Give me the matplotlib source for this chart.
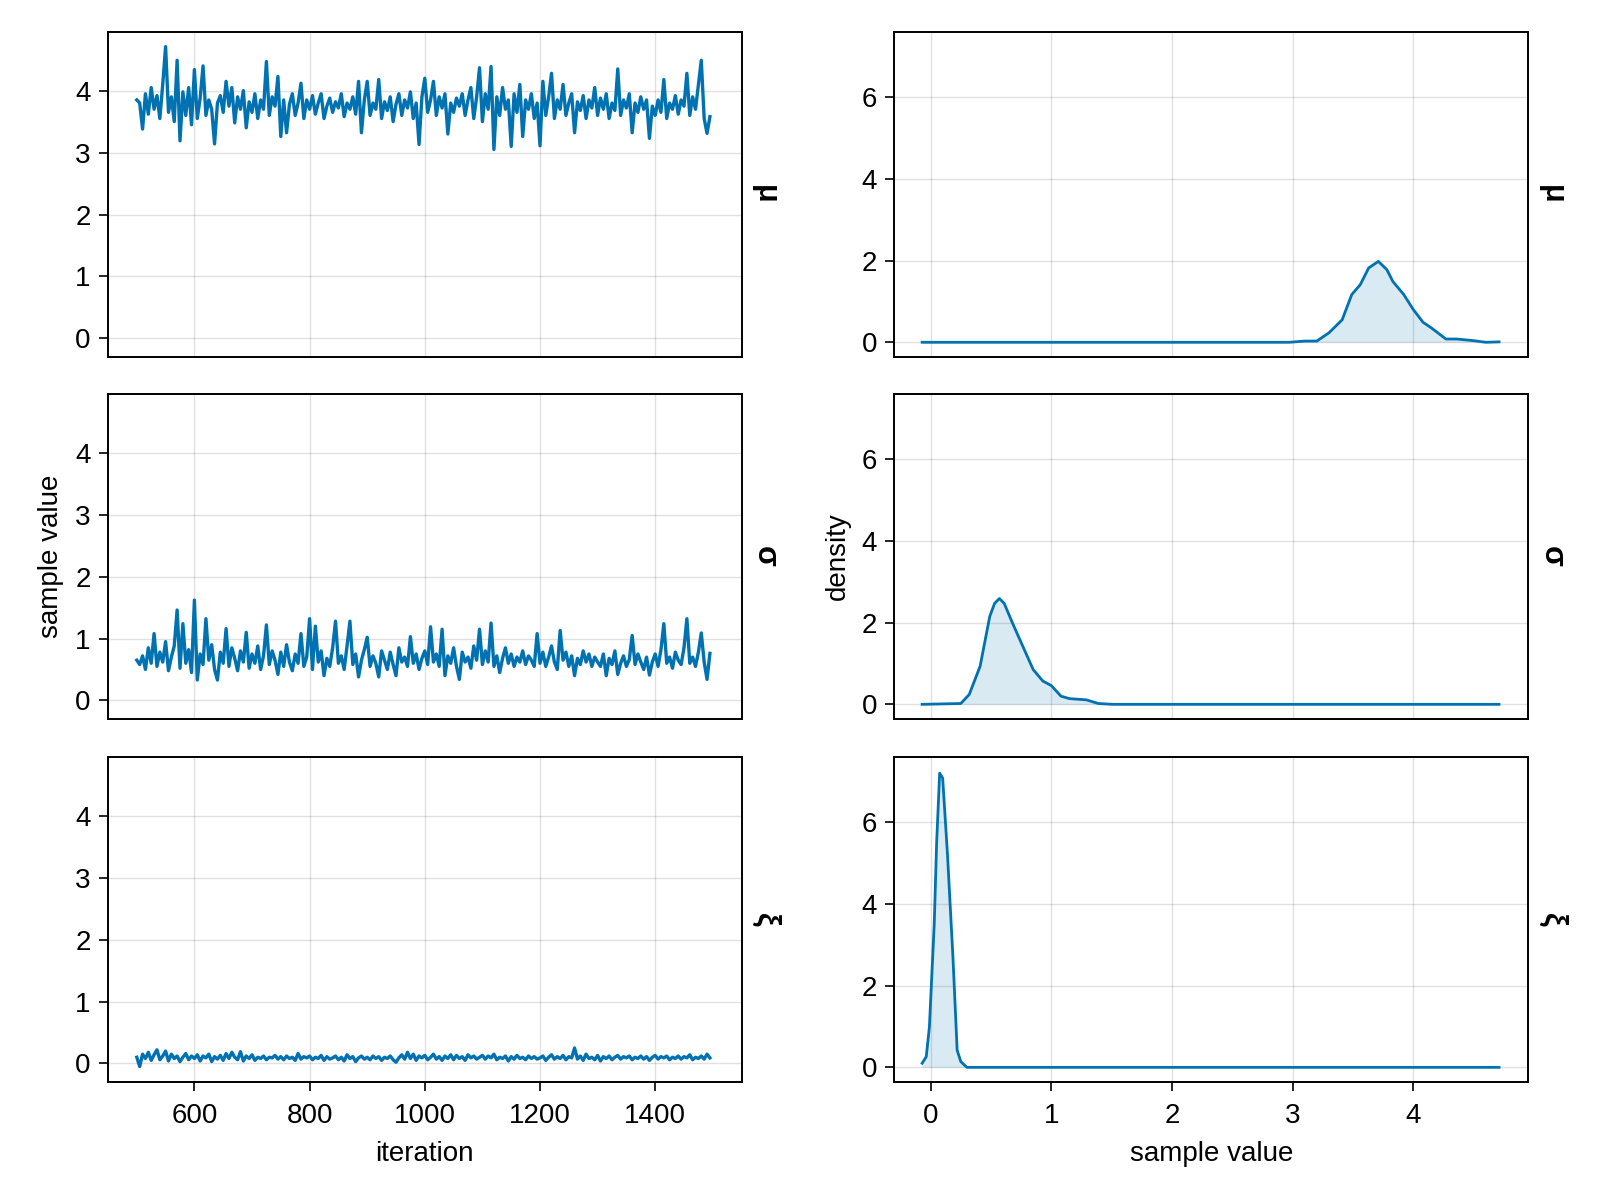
import numpy as np
import matplotlib
matplotlib.use("Agg")
import matplotlib.pyplot as plt

# trace samples, one value every 5 iterations (500..1495)
iterations = list(range(500, 1500, 5))

mu_trace = [
    3.85, 3.80, 3.38, 3.95, 3.62, 4.05, 3.70, 3.92, 3.55, 4.10, 4.71, 3.65, 3.90, 3.50, 4.49, 3.19, 3.98, 3.60, 4.05, 3.45,
    4.34, 3.55, 3.88, 4.40, 3.60, 3.85, 3.70, 3.14, 3.80, 3.92, 3.65, 4.15, 3.75, 4.05, 3.48, 3.90, 3.70, 4.00, 3.40, 3.82,
    3.65, 3.95, 3.55, 3.85, 3.70, 4.47, 3.60, 3.90, 3.75, 4.23, 3.26, 3.85, 3.32, 3.78, 3.95, 3.60, 3.80, 4.12, 3.55, 3.85,
    3.70, 3.92, 3.62, 3.80, 3.95, 3.55, 3.75, 3.88, 3.65, 3.82, 3.72, 3.95, 3.58, 3.80, 3.70, 3.90, 3.62, 4.15, 3.32, 3.85,
    4.15, 3.60, 3.80, 3.70, 4.18, 3.55, 3.82, 3.68, 3.90, 3.50, 3.78, 3.95, 3.60, 3.85, 3.72, 3.98, 3.55, 3.80, 3.13, 3.90,
    4.20, 3.65, 3.85, 4.15, 3.60, 3.90, 3.72, 3.95, 3.30, 3.80, 3.65, 3.88, 3.75, 3.95, 3.60, 3.85, 4.05, 3.55, 3.90, 4.37,
    3.50, 3.95, 3.70, 4.39, 3.05, 3.90, 3.60, 4.05, 3.70, 3.85, 3.10, 3.95, 3.65, 4.10, 3.26, 3.85, 3.70, 3.95, 3.55, 3.80,
    3.11, 4.15, 3.60, 3.90, 4.28, 3.55, 3.85, 3.70, 4.10, 3.60, 3.80, 3.95, 3.32, 3.82, 3.68, 3.92, 3.55, 3.85, 3.72, 4.05,
    3.60, 3.88, 3.70, 3.95, 3.55, 3.80, 3.68, 4.35, 3.60, 3.85, 3.72, 3.95, 3.32, 3.80, 3.65, 3.90, 3.70, 3.85, 3.23, 3.75,
    3.60, 3.85, 3.65, 4.18, 3.55, 3.80, 3.70, 3.92, 3.62, 3.85, 3.75, 4.28, 3.60, 3.90, 3.70, 4.10, 4.49, 3.55, 3.31, 3.58,
]

sigma_trace = [
    0.65, 0.58, 0.72, 0.50, 0.85, 0.60, 1.08, 0.55, 0.78, 0.62, 0.95, 0.48, 0.70, 0.88, 1.46, 0.52, 1.24, 0.60, 0.82, 0.45,
    1.62, 0.33, 0.75, 0.58, 1.32, 0.65, 0.90, 0.50, 0.33, 0.78, 0.60, 1.16, 0.55, 0.85, 0.68, 0.48, 0.80, 0.62, 1.10, 0.52,
    0.75, 0.60, 0.88, 0.50, 0.72, 1.22, 0.58, 0.80, 0.65, 0.42, 0.78, 0.55, 0.90, 0.62, 0.48, 0.75, 0.60, 1.08, 0.55, 0.70,
    1.32, 0.50, 1.20, 0.62, 0.80, 0.40, 0.68, 0.55, 0.85, 1.28, 0.60, 0.72, 0.50, 0.88, 1.28, 0.58, 0.75, 0.38, 0.65, 0.82,
    1.02, 0.55, 0.72, 0.60, 0.38, 0.80, 0.65, 0.50, 0.78, 0.58, 0.40, 0.85, 0.62, 0.70, 0.55, 1.03, 0.60, 0.75, 0.50, 0.68,
    0.80, 0.58, 1.19, 0.62, 0.75, 0.55, 1.15, 0.40, 0.72, 0.60, 0.85, 0.55, 0.34, 0.78, 0.62, 0.70, 0.52, 0.88, 0.65, 1.15,
    0.58, 0.80, 0.62, 1.25, 0.55, 0.72, 0.45, 0.68, 0.85, 0.60, 0.75, 0.55, 0.70, 0.62, 0.80, 0.58, 0.72, 0.65, 0.55, 1.08,
    0.60, 0.78, 0.55, 0.70, 0.88, 0.62, 0.50, 1.13, 0.65, 0.78, 0.55, 0.72, 0.40, 0.68, 0.58, 0.80, 0.62, 0.75, 0.55, 0.70,
    0.62, 0.55, 0.75, 0.40, 0.68, 0.58, 0.80, 0.42, 0.60, 0.72, 0.55, 0.66, 1.05, 0.58, 0.75, 0.62, 0.50, 0.70, 0.41, 0.62,
    0.75, 0.55, 0.82, 1.24, 0.60, 0.70, 0.52, 0.78, 0.65, 0.58, 0.85, 1.32, 0.60, 0.70, 0.55, 0.78, 1.09, 0.62, 0.34, 0.76,
]

xi_trace = [
    0.10, -0.05, 0.15, 0.08, 0.18, 0.05, 0.14, 0.22, 0.06, 0.12, 0.20, 0.04, 0.15, 0.08, 0.12, 0.03, 0.10, 0.16, 0.06, 0.12,
    0.08, 0.14, 0.04, 0.12, 0.09, 0.15, 0.03, 0.11, 0.07, 0.13, 0.05, 0.16, 0.08, 0.18, 0.10, 0.06, 0.19, 0.04, 0.12, 0.08,
    0.14, 0.05, 0.10, 0.08, 0.12, 0.06, 0.10, 0.09, 0.13, 0.07, 0.11, 0.06, 0.12, 0.08, 0.10, 0.05, 0.16, 0.07, 0.11, 0.09,
    0.12, 0.06, 0.10, 0.08, 0.13, 0.05, 0.11, 0.07, 0.09, 0.12, 0.06, 0.10, 0.04, 0.14, 0.08, 0.11, 0.03, 0.09, 0.12, 0.07,
    0.10, 0.06, 0.12, 0.08, 0.11, 0.05, 0.10, 0.08, 0.12, 0.06, 0.02, 0.09, 0.14, 0.07, 0.18, 0.08, 0.15, 0.05, 0.12, 0.09,
    0.13, 0.06, 0.10, 0.15, 0.07, 0.11, 0.05, 0.12, 0.08, 0.14, 0.06, 0.13, 0.08, 0.11, 0.05, 0.14, 0.09, 0.12, 0.07, 0.10,
    0.13, 0.07, 0.12, 0.09, 0.15, 0.06, 0.10, 0.08, 0.12, 0.04, 0.11, 0.07, 0.13, 0.08, 0.10, 0.06, 0.12, 0.08, 0.11, 0.07,
    0.09, 0.12, 0.05, 0.10, 0.14, 0.07, 0.11, 0.08, 0.13, 0.06, 0.11, 0.09, 0.25, 0.07, 0.12, 0.05, 0.15, 0.08, 0.10, 0.06,
    0.13, 0.04, 0.11, 0.08, 0.12, 0.06, 0.10, 0.13, 0.07, 0.11, 0.09, 0.12, 0.06, 0.10, 0.08, 0.12, 0.07, 0.11, 0.05, 0.10,
    0.13, 0.07, 0.11, 0.09, 0.12, 0.06, 0.10, 0.08, 0.12, 0.07, 0.11, 0.09, 0.14, 0.06, 0.10, 0.08, 0.12, 0.07, 0.15, 0.09,
]

# kernel density curves
mu_dens_x = [-0.07, 2.97, 3.10, 3.20, 3.30, 3.41, 3.49, 3.56, 3.63, 3.71, 3.78, 3.83, 3.92, 4.00, 4.08, 4.15, 4.27, 4.36, 4.50, 4.60, 4.71]
mu_dens_y = [0.0, 0.0, 0.03, 0.03, 0.23, 0.55, 1.17, 1.41, 1.82, 1.98, 1.78, 1.49, 1.17, 0.80, 0.49, 0.35, 0.08, 0.08, 0.04, 0.0, 0.01]

sigma_dens_x = [-0.07, 0.25, 0.32, 0.41, 0.49, 0.53, 0.57, 0.61, 0.68, 0.77, 0.85, 0.93, 1.00, 1.08, 1.15, 1.29, 1.39, 1.51, 4.71]
sigma_dens_y = [0.0, 0.02, 0.24, 0.93, 2.15, 2.47, 2.59, 2.47, 1.98, 1.38, 0.85, 0.57, 0.46, 0.20, 0.14, 0.11, 0.02, 0.0, 0.0]

xi_dens_x = [-0.07, -0.036, -0.01, 0.03, 0.05, 0.075, 0.10, 0.14, 0.185, 0.22, 0.25, 0.30, 4.71]
xi_dens_y = [0.10, 0.26, 0.99, 3.5, 5.5, 7.2, 7.08, 5.2, 2.7, 0.42, 0.14, 0.0, 0.0]

names = ["μ", "σ", "ξ"]
traces = [mu_trace, sigma_trace, xi_trace]
dens_x = [mu_dens_x, sigma_dens_x, xi_dens_x]
dens_y = [mu_dens_y, sigma_dens_y, xi_dens_y]

blue = "#0072B2"
plt.rcParams['font.family'] = ['Liberation Sans', 'DejaVu Sans']
plt.rcParams['font.size'] = 10

fig = plt.figure(figsize=(8, 6), dpi=200)

row_bottoms = [0.7025, 0.4008, 0.0983]
row_h = 0.271


def style_axes(ax, show_x):
    for s in ax.spines.values():
        s.set_linewidth(0.7)
    ax.grid(True, color="black", alpha=0.12, linewidth=0.5)
    ax.set_axisbelow(True)
    ax.tick_params(direction="out", length=3.2, width=0.6, labelsize=10, pad=3)
    ax.tick_params(axis="x", pad=4.5)
    if not show_x:
        ax.tick_params(axis="x", length=0, labelbottom=False)


for i in range(3):
    # trace column
    ax = fig.add_axes([0.0675, row_bottoms[i], 0.396, row_h])
    ax.plot(iterations, traces[i], color=blue, linewidth=1.2)
    ax.set_xlim(450, 1550)
    ax.set_ylim(-0.3, 4.95)
    ax.set_xticks([600, 800, 1000, 1200, 1400])
    ax.set_yticks([0, 1, 2, 3, 4])
    style_axes(ax, i == 2)
    if i == 1:
        ax.set_ylabel("sample value", labelpad=4)
    if i == 2:
        ax.set_xlabel("iteration", labelpad=4)
    fig.text(0.478, row_bottoms[i] + row_h / 2, names[i], rotation=-90,
             ha="center", va="center", fontsize=11, fontweight="bold")

    # density column
    ax2 = fig.add_axes([0.559, row_bottoms[i], 0.396, row_h])
    ax2.fill_between(dens_x[i], 0, dens_y[i], color=blue, alpha=0.15, linewidth=0)
    ax2.plot(dens_x[i], dens_y[i], color=blue, linewidth=1.0)
    ax2.set_xlim(-0.3, 4.95)
    ax2.set_ylim(-0.36, 7.6)
    ax2.set_xticks([0, 1, 2, 3, 4])
    ax2.set_yticks([0, 2, 4, 6])
    style_axes(ax2, i == 2)
    if i == 1:
        ax2.set_ylabel("density", labelpad=4)
    if i == 2:
        ax2.set_xlabel("sample value", labelpad=4)
    fig.text(0.970, row_bottoms[i] + row_h / 2, names[i], rotation=-90,
             ha="center", va="center", fontsize=11, fontweight="bold")

fig.savefig("out.png", dpi=200)
